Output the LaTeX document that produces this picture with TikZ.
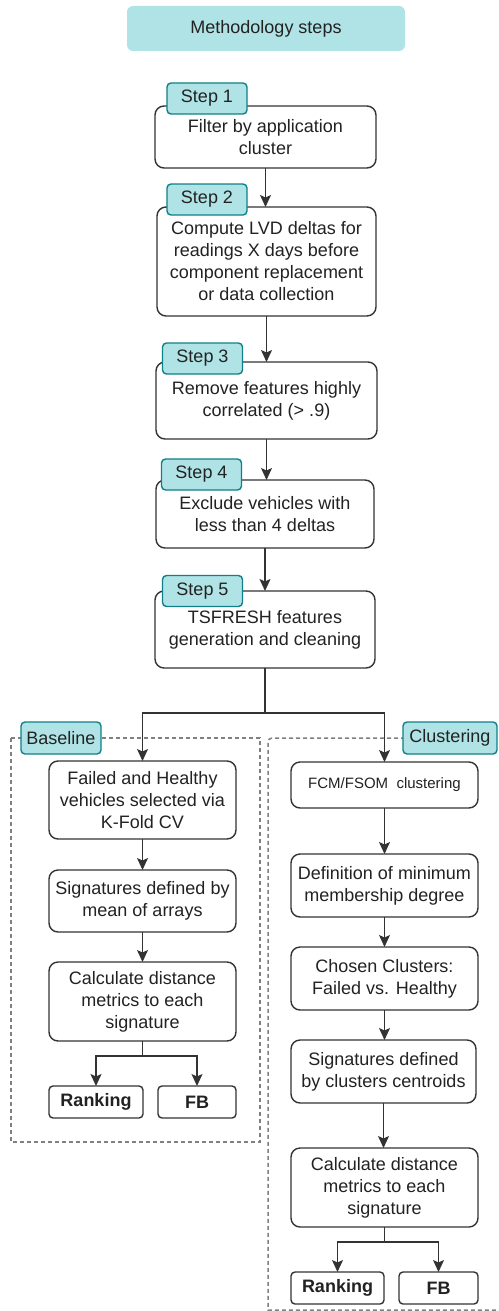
\documentclass[tikz,border=0pt]{standalone}
\usepackage{fontspec}
\setmainfont{Liberation Sans}
\usetikzlibrary{arrows.meta}
\definecolor{tealfill}{HTML}{B0E3E6}
\definecolor{tealline}{HTML}{0E8088}
\definecolor{boxline}{HTML}{333333}
\definecolor{txt}{HTML}{222222}
\definecolor{frameline}{HTML}{808080}
\begin{document}
\begin{tikzpicture}[x=1pt,y=-1pt,
  every node/.style={inner sep=0pt,outer sep=0pt,text=txt,font=\fontsize{18}{22}\selectfont,align=center},
  stepbox/.style={draw=boxline,line width=1.4pt,fill=white,rounded corners=9pt},
  tagbox/.style={draw=tealline,line width=1.4pt,fill=tealfill,rounded corners=4pt,minimum width=80pt,minimum height=31pt},
  smallbox/.style={draw=boxline,line width=1.4pt,fill=white,rounded corners=4pt,minimum height=32pt,font=\fontsize{18}{22}\selectfont\bfseries},
  frame/.style={draw=frameline,line width=1.5pt,dash pattern=on 4pt off 3pt},
  conn/.style={draw=boxline,line width=1.4pt},
  arr/.style={conn,-{Stealth[length=12pt,width=11pt,inset=2.5pt,fill=boxline]}}]
\useasboundingbox (0,0) rectangle (498,1311);
% title
\node[fill=tealfill,rounded corners=6pt,minimum width=278pt,minimum height=45pt] (title) at (266,28.5) {Methodology steps};
% main steps
\node[stepbox,minimum width=221pt,minimum height=62pt] (b1) at (265.5,137) {Filter by application\\cluster};
\node[stepbox,minimum width=219pt,minimum height=109pt] (b2) at (266.5,261.5) {Compute LVD deltas for\\readings X days before\\component replacement\\or data collection};
\node[stepbox,minimum width=221pt,minimum height=77pt] (b3) at (266.5,400.5) {Remove features highly\\correlated (> .9)};
\node[stepbox,minimum width=218pt,minimum height=68pt] (b4) at (265,514) {Exclude vehicles with\\less than 4 deltas};
\node[stepbox,minimum width=220pt,minimum height=77pt] (b5) at (265,629.5) {TSFRESH features\\generation and cleaning};
\draw[arr] (b1.south) -- (b1.south |- b2.north);
\draw[arr] (b2.south) -- (b2.south |- b3.north);
\draw[arr] (b3.south) -- (b3.south |- b4.north);
\draw[arr] (b4.south) -- (b4.south |- b5.north);
% frames
\draw[frame] (11,738) rectangle (260,1142);
\draw[frame] (510,738) -- (272,738) arc[start angle=90,end angle=180,radius=4pt] -- (268,1310) -- (510,1310);
% baseline branch
\node[stepbox,minimum width=187pt,minimum height=78pt] (B1) at (142.5,800) {Failed and Healthy\\vehicles selected via\\K-Fold CV};
\node[stepbox,minimum width=187pt,minimum height=62pt] (B2) at (142.5,901) {Signatures defined by\\mean of arrays};
\node[stepbox,minimum width=187pt,minimum height=79pt] (B3) at (142.5,1001.5) {Calculate distance\\metrics to each\\signature};
\node[smallbox,minimum width=94pt] (R1) at (96,1102) {Ranking};
\node[smallbox,minimum width=78pt] (F1) at (197,1102) {FB};
% clustering branch
\node[stepbox,minimum width=187pt,minimum height=46pt,font=\fontsize{15}{18}\selectfont] (C1) at (384.5,785) {FCM/FSOM\ \ clustering};
\node[stepbox,minimum width=187pt,minimum height=63pt] (C2) at (384.5,885.5) {Definition of minimum\\membership degree};
\node[stepbox,minimum width=187pt,minimum height=63pt] (C3) at (384.5,978.5) {Chosen Clusters:\\Failed vs. Healthy};
\node[stepbox,minimum width=185pt,minimum height=63pt] (C4) at (383.5,1071.5) {Signatures defined\\by clusters centroids};
\node[stepbox,minimum width=187pt,minimum height=79pt] (C5) at (384.5,1187.5) {Calculate distance\\metrics to each\\signature};
\node[smallbox,minimum width=93pt] (R2) at (337.5,1288) {Ranking};
\node[smallbox,minimum width=79pt] (F2) at (438.5,1288) {FB};
% split after step 5
\coordinate (s1) at (265,713);
\draw[conn] (b5.south) -- (s1);
\draw[arr] (s1) -| (B1.north);
\draw[arr] (s1) -| (C1.north);
% baseline connectors
\draw[arr] (B1.south) -- (B2.north);
\draw[arr] (B2.south) -- (B3.north);
\coordinate (s2) at (142.5,1056);
\draw[conn] (B3.south) -- (s2);
\draw[arr] (s2) -| (R1.north);
\draw[arr] (s2) -| (F1.north);
% clustering connectors
\draw[arr] (C1.south) -- (C2.north);
\draw[arr] (C2.south) -- (C3.north);
\draw[arr] (C3.south) -- (C3.south |- C4.north);
\draw[arr] (C4.south) -- (C4.south |- C5.north);
\coordinate (s3) at (384.5,1242);
\draw[conn] (C5.south) -- (s3);
\draw[arr] (s3) -| (R2.north);
\draw[arr] (s3) -| (F2.north);
% tags
\node[tagbox] (t1) at (207,98.5) {Step 1};
\node[tagbox] (t2) at (207,199.5) {Step 2};
\node[tagbox] (t3) at (202.5,358.5) {Step 3};
\node[tagbox] (t4) at (201.5,474.5) {Step 4};
\node[tagbox] (t5) at (202.5,591) {Step 5};
\node[tagbox,minimum height=32pt] (tb) at (61,738) {Baseline};
\node[tagbox,minimum width=94pt,minimum height=32pt] (tc) at (450,738) {Clustering};
\end{tikzpicture}
\end{document}
